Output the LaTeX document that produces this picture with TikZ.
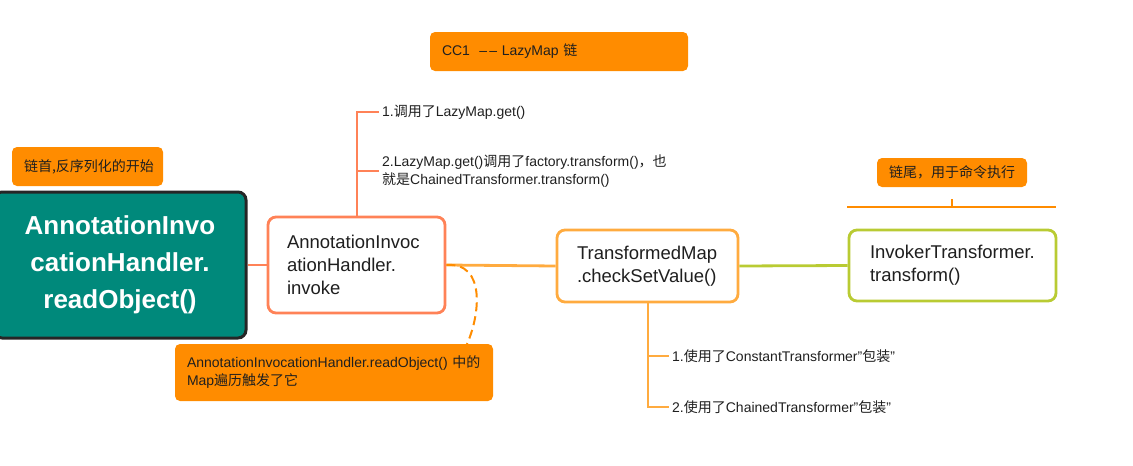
\documentclass[tikz,border=0pt]{standalone}
\usepackage{fontspec}
\setmainfont{Liberation Sans}
\newfontfamily\zhfont{Noto Sans CJK SC}
\newcommand{\zh}[1]{{\zhfont #1}}
\definecolor{tagorange}{HTML}{FF8C00}
\definecolor{salmon}{HTML}{FF8257}
\definecolor{amber}{HTML}{FFAB3F}
\definecolor{limegreen}{HTML}{B9CB33}
\definecolor{rootteal}{HTML}{00897B}
\definecolor{ink}{HTML}{1F1F1F}
\begin{document}
\begin{tikzpicture}[x=1pt,y=-1pt,
    tag/.style={fill=tagorange,rounded corners=5pt,align=left,inner ysep=0pt,
      text=ink,font=\fontsize{14}{18}\selectfont},
    box/.style={draw,fill=white,line width=2.8pt,rounded corners=8pt,align=left,
      inner ysep=0pt,text=ink,font=\fontsize{18.5}{23}\selectfont},
    note/.style={anchor=west,align=left,inner sep=3pt,text=ink,
      font=\fontsize{14}{18}\selectfont},
    branch/.style={line width=2pt}]
  \useasboundingbox (0,0) rectangle (1133,466);

  % chain boxes
  \node[draw=black!85,fill=rootteal,line width=3pt,rounded corners=8pt,
    minimum width=252pt,minimum height=146pt,text width=236pt,align=center,
    text=white,font=\bfseries\fontsize{26}{37}\selectfont] (root) at (120,265)
    {AnnotationInvo\\cationHandler.\\readObject()};
  \node[box,draw=salmon,minimum width=177pt,minimum height=96pt,
    inner xsep=19pt,text width=139pt] (invoke) at (356.5,265)
    {AnnotationInvoc\\ationHandler.\\invoke};
  \node[box,draw=amber,minimum width=181pt,minimum height=72pt,
    inner xsep=20pt,text width=141pt] (tm) at (647.5,266)
    {TransformedMap\\.checkSetValue()};
  \node[box,draw=limegreen,minimum width=207pt,minimum height=71pt,
    inner xsep=21pt,text width=165pt] (invoker) at (952.5,265.5)
    {InvokerTransformer.\\transform()};

  % tags
  \node[tag,minimum width=258pt,minimum height=39pt,inner xsep=12pt,
    text width=234pt] (title) at (559,51.5) {CC1\ \ --\,-- LazyMap \zh{链}};
  \node[tag,minimum width=151pt,minimum height=39pt,inner xsep=12pt,
    text width=127pt] (head) at (87.5,166.5) {\zh{链首,反序列化的开始}};
  \node[tag,minimum width=150pt,minimum height=29pt,inner xsep=12pt,
    text width=126pt] (tail) at (952,172.5) {\zh{链尾，用于命令执行}};
  \node[tag,minimum width=318pt,minimum height=57pt,inner xsep=12pt,
    text width=294pt] (trigger) at (334,372.5)
    {AnnotationInvocationHandler.readObject() \zh{中的}\\Map\zh{遍历触发了它}};

  % side notes
  \node[note] (get) at (379,112) {1.\zh{调用了}LazyMap.get()};
  \node[note] (factory) at (379,171)
    {2.LazyMap.get()\zh{调用了}factory.transform()\zh{，也}\\\zh{就是}ChainedTransformer.transform()};
  \node[note] (constant) at (669,356) {1.\zh{使用了}ConstantTransformer"\zh{包装}"};
  \node[note] (chained) at (669,407) {2.\zh{使用了}ChainedTransformer"\zh{包装}"};
  \coordinate (tl) at (847,207);
  \coordinate (tr) at (1056,207);
  \coordinate (hit) at (467,344);

  % connectors
  \draw[salmon,line width=2.8pt] (root.east) -- (invoke.west);
  \draw[amber,line width=2.8pt] (invoke.east) -- (tm.west);
  \draw[limegreen,line width=2.8pt] (tm.east) -- (invoker.west);
  \draw[salmon,branch] (invoke.north) |- (get.west);
  \draw[salmon,branch] (invoke.north |- factory.west) -- (factory.west);
  \draw[amber,branch] (tm.south) |- (chained.west);
  \draw[amber,branch] (tm.south |- constant.west) -- (constant.west);
  \draw[tagorange,branch] (tl) -- (tr);
  \draw[tagorange,branch] (tail.south |- tl) -- ++(0,-8);
  \draw[tagorange,branch,dash pattern=on 9pt off 5pt]
    (invoke.east) .. controls (486,262) and (480,315) .. (hit);
\end{tikzpicture}
\end{document}
